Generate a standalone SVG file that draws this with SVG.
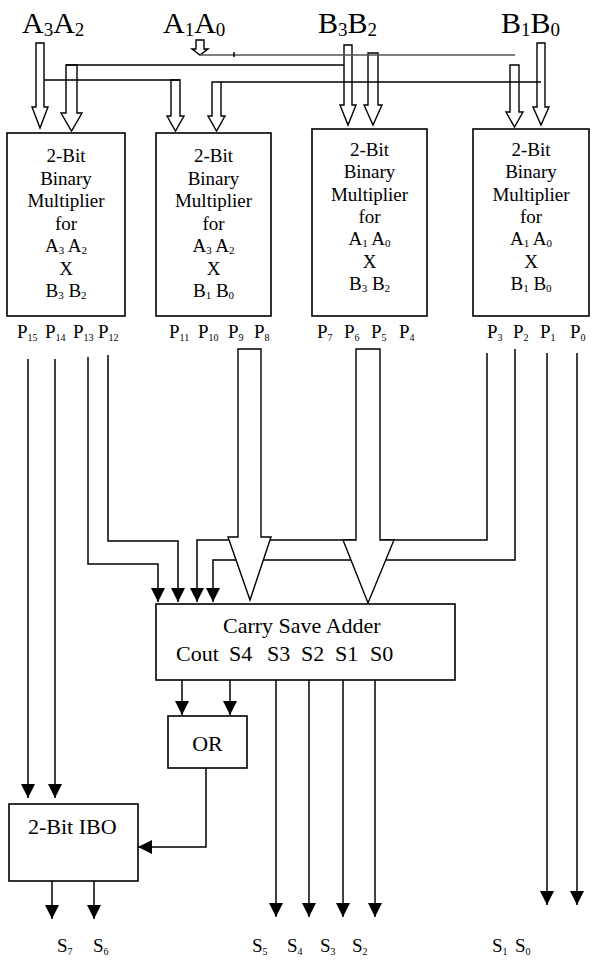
<svg xmlns="http://www.w3.org/2000/svg" width="597" height="960" viewBox="0 0 597 960">
<defs>
<style>
text{font-family:"Liberation Serif","Times New Roman",serif;fill:#000}
.big{font-size:30px}
.bx{font-size:19px;text-anchor:middle}
.pl{font-size:19px}
.sb{font-size:10px}
.lbl{font-size:22px}
.box{fill:#fff;stroke:#000;stroke-width:1.6}
.w{fill:none;stroke:#000;stroke-width:1.5}
.g{fill:none;stroke:#555;stroke-width:1.5}
.ho{fill:#fff;stroke:#000;stroke-width:1.4}
.ar{fill:none;stroke:#000;stroke-width:1.5;marker-end:url(#ah)}
</style>
<marker id="ah" markerUnits="userSpaceOnUse" markerWidth="14" markerHeight="14" refX="14" refY="7" orient="auto" viewBox="0 0 14 14">
<path d="M0,0 L14,7 L0,14 z" fill="#000"/>
</marker>
</defs>

<g id="inputs">
<text class="big" x="22" y="33">A<tspan font-size="19" dy="3">3</tspan><tspan dy="-3">A</tspan><tspan font-size="19" dy="3">2</tspan></text>
<text class="big" x="163" y="33">A<tspan font-size="19" dy="3">1</tspan><tspan dy="-3">A</tspan><tspan font-size="19" dy="3">0</tspan></text>
<text class="big" x="318" y="33">B<tspan font-size="19" dy="3">3</tspan><tspan dy="-3">B</tspan><tspan font-size="19" dy="3">2</tspan></text>
<text class="big" x="501" y="33">B<tspan font-size="19" dy="3">1</tspan><tspan dy="-3">B</tspan><tspan font-size="19" dy="3">0</tspan></text>
</g>

<g id="connectors">
<!-- hollow input arrows -->
<path class="ho" d="M36,43 V107 H32 L40,128 L48,107 H44 V43 Z"/>
<path class="ho" d="M66,65 V113 H61 L71.5,131 L82,113 H77 V65 Z"/>
<path class="ho" d="M171,80 V116 H167 L175.5,131 L184,116 H180 V80 Z"/>
<path class="ho" d="M212,82 V116 H208 L216.5,131 L225,116 H221 V82 Z"/>
<path class="ho" d="M344,45 V105 H340 L348,125 L356,105 H352 V45 Z"/>
<path class="ho" d="M368,53 V105 H364 L373,125 L382,105 H378 V53 Z"/>
<path class="ho" d="M510,65 V112 H506 L514.5,127 L523,112 H519 V65 Z"/>
<path class="ho" d="M537,43 V107 H533 L541,125 L549,107 H545 V43 Z"/>
<path class="ho" d="M196,40 V49 H192 L200,55 L208,49 H204 V40 Z"/>
<!-- bus lines -->
<path class="g" d="M200,55 H515"/>
<path class="w" d="M234,52 V57"/>
<path class="w" d="M66,65 H344"/>
<path class="w" d="M44,80 H180"/>
<path class="w" d="M221,82 H541"/>

<!-- product lines into CSA -->
<path class="ar" d="M88,357 V564 H158 V602"/>
<path class="ar" d="M108,355 V541 H178 V602"/>
<path class="ar" d="M487,353 V540 H197 V602"/>
<path class="ar" d="M515,349 V560 H213 V602"/>
<!-- big hollow arrows -->
<path class="ho" d="M238,349 V537 H228 L250,600 L271,537 H261 V349 Z"/>
<path class="ho" d="M356,349 V540 H343 L368,603 L394,540 H380 V349 Z"/>
<!-- P15, P14 to IBO -->
<path class="ar" d="M28,359 V798"/>
<path class="ar" d="M55,359 V798"/>
<!-- P1, P0 -->
<path class="ar" d="M547,353 V905"/>
<path class="ar" d="M577,353 V905"/>
<!-- CSA to OR -->
<path class="ar" d="M182,680 V715"/>
<path class="ar" d="M230,680 V715"/>
<!-- OR to IBO -->
<path class="ar" d="M206,768 V847 H138"/>
<!-- IBO outputs -->
<path class="ar" d="M52,881 V919"/>
<path class="ar" d="M94,881 V919"/>
<!-- CSA outputs -->
<path class="ar" d="M276,680 V917"/>
<path class="ar" d="M309,680 V917"/>
<path class="ar" d="M343,680 V917"/>
<path class="ar" d="M375,680 V917"/>
</g>

<g id="mult1">
<rect class="box" x="7" y="133" width="118" height="183"/>
<text class="bx" x="66" y="162">2-Bit</text>
<text class="bx" x="66" y="184.5">Binary</text>
<text class="bx" x="66" y="207">Multiplier</text>
<text class="bx" x="66" y="229.5">for</text>
<text class="bx" x="66" y="252">A<tspan font-size="11" dy="2">3</tspan><tspan dy="-2"> A</tspan><tspan font-size="11" dy="2">2</tspan></text>
<text class="bx" x="66" y="274.5">X</text>
<text class="bx" x="66" y="297">B<tspan font-size="11" dy="2">3</tspan><tspan dy="-2"> B</tspan><tspan font-size="11" dy="2">2</tspan></text>
<text class="pl" x="17" y="338">P<tspan class="sb" dy="3">15</tspan></text>
<text class="pl" x="45" y="338">P<tspan class="sb" dy="3">14</tspan></text>
<text class="pl" x="73" y="338">P<tspan class="sb" dy="3">13</tspan></text>
<text class="pl" x="98" y="338">P<tspan class="sb" dy="3">12</tspan></text>
</g>

<g id="mult2">
<rect class="box" x="156" y="133" width="115" height="183"/>
<text class="bx" x="213.5" y="162">2-Bit</text>
<text class="bx" x="213.5" y="184.5">Binary</text>
<text class="bx" x="213.5" y="207">Multiplier</text>
<text class="bx" x="213.5" y="229.5">for</text>
<text class="bx" x="213.5" y="252">A<tspan font-size="11" dy="2">3</tspan><tspan dy="-2"> A</tspan><tspan font-size="11" dy="2">2</tspan></text>
<text class="bx" x="213.5" y="274.5">X</text>
<text class="bx" x="213.5" y="297">B<tspan font-size="11" dy="2">1</tspan><tspan dy="-2"> B</tspan><tspan font-size="11" dy="2">0</tspan></text>
<text class="pl" x="169" y="338">P<tspan class="sb" dy="3">11</tspan></text>
<text class="pl" x="198" y="338">P<tspan class="sb" dy="3">10</tspan></text>
<text class="pl" x="228" y="338">P<tspan class="sb" dy="3">9</tspan></text>
<text class="pl" x="254" y="338">P<tspan class="sb" dy="3">8</tspan></text>
</g>

<g id="mult3">
<rect class="box" x="312" y="129" width="115" height="187"/>
<text class="bx" x="369.5" y="156">2-Bit</text>
<text class="bx" x="369.5" y="178.3">Binary</text>
<text class="bx" x="369.5" y="200.6">Multiplier</text>
<text class="bx" x="369.5" y="223">for</text>
<text class="bx" x="369.5" y="245.3">A<tspan font-size="11" dy="2">1</tspan><tspan dy="-2"> A</tspan><tspan font-size="11" dy="2">0</tspan></text>
<text class="bx" x="369.5" y="267.6">X</text>
<text class="bx" x="369.5" y="290">B<tspan font-size="11" dy="2">3</tspan><tspan dy="-2"> B</tspan><tspan font-size="11" dy="2">2</tspan></text>
<text class="pl" x="317" y="338">P<tspan class="sb" dy="3">7</tspan></text>
<text class="pl" x="344" y="338">P<tspan class="sb" dy="3">6</tspan></text>
<text class="pl" x="371" y="338">P<tspan class="sb" dy="3">5</tspan></text>
<text class="pl" x="399" y="338">P<tspan class="sb" dy="3">4</tspan></text>
</g>

<g id="mult4">
<rect class="box" x="473" y="129" width="116" height="187"/>
<text class="bx" x="531" y="156">2-Bit</text>
<text class="bx" x="531" y="178.3">Binary</text>
<text class="bx" x="531" y="200.6">Multiplier</text>
<text class="bx" x="531" y="223">for</text>
<text class="bx" x="531" y="245.3">A<tspan font-size="11" dy="2">1</tspan><tspan dy="-2"> A</tspan><tspan font-size="11" dy="2">0</tspan></text>
<text class="bx" x="531" y="267.6">X</text>
<text class="bx" x="531" y="290">B<tspan font-size="11" dy="2">1</tspan><tspan dy="-2"> B</tspan><tspan font-size="11" dy="2">0</tspan></text>
<text class="pl" x="487" y="338">P<tspan class="sb" dy="3">3</tspan></text>
<text class="pl" x="513" y="338">P<tspan class="sb" dy="3">2</tspan></text>
<text class="pl" x="540" y="338">P<tspan class="sb" dy="3">1</tspan></text>
<text class="pl" x="570" y="338">P<tspan class="sb" dy="3">0</tspan></text>
</g>

<g id="csa">
<rect class="box" x="156" y="604" width="299" height="76"/>
<text class="lbl" x="223" y="633">Carry Save Adder</text>
<text class="lbl" x="176" y="661">Cout</text>
<text class="lbl" x="229" y="661">S4</text>
<text class="lbl" x="267" y="661">S3</text>
<text class="lbl" x="301" y="661">S2</text>
<text class="lbl" x="335" y="661">S1</text>
<text class="lbl" x="370" y="661">S0</text>
</g>

<g id="or">
<rect class="box" x="168" y="716" width="79" height="52"/>
<text class="lbl" x="207.5" y="751" font-size="23" text-anchor="middle">OR</text>
</g>

<g id="ibo">
<rect class="box" x="9" y="804" width="129" height="77"/>
<text class="lbl" x="28" y="834">2-Bit IBO</text>
</g>

<g id="outputs">
<text class="pl" x="57" y="952">S<tspan class="sb" dy="3">7</tspan></text>
<text class="pl" x="93" y="952">S<tspan class="sb" dy="3">6</tspan></text>
<text class="pl" x="252" y="952">S<tspan class="sb" dy="3">5</tspan></text>
<text class="pl" x="287" y="952">S<tspan class="sb" dy="3">4</tspan></text>
<text class="pl" x="320" y="952">S<tspan class="sb" dy="3">3</tspan></text>
<text class="pl" x="352" y="952">S<tspan class="sb" dy="3">2</tspan></text>
<text class="pl" x="492" y="952">S<tspan class="sb" dy="3">1</tspan></text>
<text class="pl" x="515" y="952">S<tspan class="sb" dy="3">0</tspan></text>
</g>
</svg>
